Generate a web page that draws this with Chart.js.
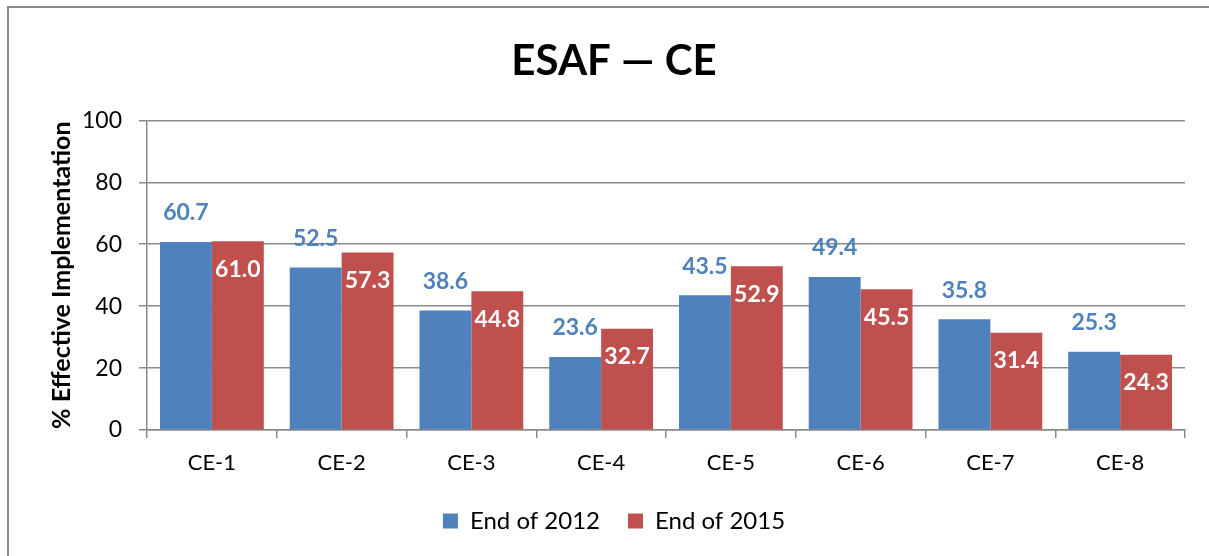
<!DOCTYPE html>
<html>
<head>
<meta charset="utf-8">
<script src="https://cdn.jsdelivr.net/npm/chart.js@4.4.1/dist/chart.umd.min.js"></script>
<style>
  html, body { margin:0; padding:0; background:#fff; overflow:hidden; }
  #wrap { position:relative; width:1209px; height:556px; }
  #frame { position:absolute; left:7px; top:6px; width:1400px; height:800px;
           border-left:2px solid #8a8a8a; border-top:2px solid #8a8a8a; }
  canvas { position:absolute; left:0; top:0; }
</style>
</head>
<body>
<div id="wrap">
  <div id="frame"></div>
  <canvas id="chart" width="1209" height="556"></canvas>
</div>
<script>
// datos
const categories = ['CE-1', 'CE-2', 'CE-3', 'CE-4', 'CE-5', 'CE-6', 'CE-7', 'CE-8'];
const end2012 = [60.7, 52.5, 38.6, 23.6, 43.5, 49.4, 35.8, 25.3];
const end2015 = [61.0, 57.3, 44.8, 32.7, 52.9, 45.5, 31.4, 24.3];
const yTicks = [0, 20, 40, 60, 80, 100];

const FONT = 'Lato, "Open Sans", sans-serif';
const GRID = '#8a8a8a';

// etiquetas de valores: azul encima, rojo dentro
const valueLabels = {
    id: 'valueLabels',
    afterDatasetsDraw(chart) {
        const ctx = chart.ctx;
        ctx.save();
        ctx.font = 'bold 23px ' + FONT;
        ctx.textAlign = 'center';
        ctx.textBaseline = 'middle';
        chart.data.datasets.forEach((ds, i) => {
            const meta = chart.getDatasetMeta(i);
            meta.data.forEach((bar, j) => {
                const txt = ds.data[j].toFixed(1);
                if (i === 0) {
                    ctx.fillStyle = '#4F81BD';
                    ctx.fillText(txt, bar.x, bar.y - 29);
                } else {
                    ctx.fillStyle = '#ffffff';
                    ctx.fillText(txt, bar.x, bar.y + 28);
                }
            });
        });
        ctx.restore();
    }
};

new Chart(document.getElementById('chart'), {
    type: 'bar',
    data: {
        labels: categories,
        datasets: [
            { label: 'End of 2012', data: end2012, backgroundColor: '#4F81BD' },
            { label: 'End of 2015', data: end2015, backgroundColor: '#C0504D' }
        ]
    },
    options: {
        responsive: false,
        animation: false,
        datasets: { bar: { categoryPercentage: 0.8, barPercentage: 1.0 } },
        layout: { padding: { left: 43, right: 24, top: 0, bottom: 13 } },
        plugins: {
            title: {
                display: true,
                text: 'ESAF — CE',
                color: '#000',
                font: { family: FONT, size: 42, weight: 'bold' },
                padding: { top: 36, bottom: 34 }
            },
            legend: {
                position: 'bottom',
                labels: {
                    color: '#000',
                    font: { family: FONT, size: 24 },
                    boxWidth: 15, boxHeight: 15,
                    padding: 28
                }
            },
            tooltip: { enabled: false }
        },
        scales: {
            x: {
                grid: { drawOnChartArea: false, drawTicks: true, tickLength: 8, color: GRID, lineWidth: 1.5 },
                border: { color: GRID, width: 1.5 },
                ticks: { color: '#000', font: { family: FONT, size: 22 }, padding: 12 },
                afterFit(s) { s.height = 51; }
            },
            y: {
                min: 0, max: 100,
                afterBuildTicks(s) { s.ticks = yTicks.map(v => ({ value: v })); },
                grid: { color: GRID, lineWidth: 1.5, tickLength: 8 },
                border: { color: GRID, width: 1.5 },
                ticks: { color: '#000', font: { family: FONT, size: 23 }, padding: 17 },
                title: {
                    display: true,
                    text: '% Effective Implementation',
                    color: '#000',
                    font: { family: FONT, size: 25, weight: 'bold' },
                    padding: { top: 4, bottom: 0 }
                },
                afterFit(s) { s.width = 104; }
            }
        }
    },
    plugins: [valueLabels]
});
</script>
</body>
</html>
